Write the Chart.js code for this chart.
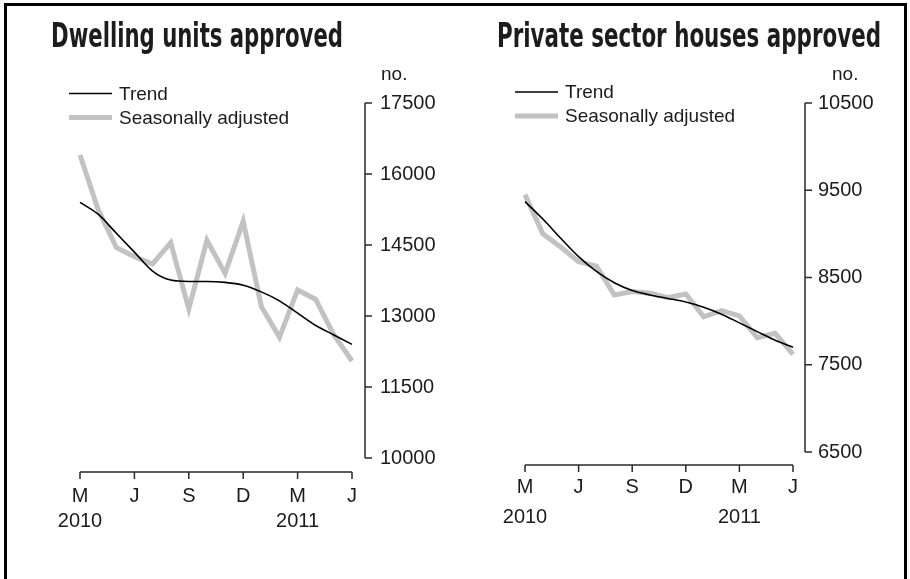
<!DOCTYPE html>
<html>
<head>
<meta charset="utf-8">
<script src="https://cdn.jsdelivr.net/npm/chart.js@4.4.0/dist/chart.umd.min.js"></script>
<style>
  html, body { margin: 0; padding: 0; background: #fff; }
  body { width: 910px; height: 579px; position: relative; overflow: hidden; }
  #frame { position: absolute; left: 4px; top: 3px; width: 903px; height: 640px; border: 3px solid #000; box-sizing: border-box; }
  canvas { position: absolute; top: 0; }
</style>
</head>
<body>
<div id="frame"></div>
<canvas id="dwellings" width="455" height="579" style="left:0"></canvas>
<canvas id="houses" width="455" height="579" style="left:455px"></canvas>
<script>
// monthly, March 2010 to June 2011
const months = ['Mar 2010', 'Apr 2010', 'May 2010', 'Jun 2010', 'Jul 2010', 'Aug 2010', 'Sep 2010', 'Oct 2010',
  'Nov 2010', 'Dec 2010', 'Jan 2011', 'Feb 2011', 'Mar 2011', 'Apr 2011', 'May 2011', 'Jun 2011'];

const dwellingTrend = [15400, 15150, 14750, 14350, 13950, 13760, 13730, 13730, 13710, 13650, 13510, 13320, 13060, 12800, 12600, 12400];
const dwellingSA = [16400, 15250, 14450, 14250, 14100, 14550, 13150, 14600, 13900, 15000, 13200, 12550, 13550, 13350, 12600, 12050];
const dwellingTicks = [10000, 11500, 13000, 14500, 16000, 17500];

const housesTrend = [9370, 9170, 8950, 8740, 8570, 8440, 8350, 8300, 8260, 8220, 8160, 8080, 7980, 7880, 7780, 7700];
const housesSA = [9450, 9000, 8850, 8680, 8630, 8300, 8340, 8320, 8270, 8310, 8050, 8120, 8060, 7810, 7860, 7620];
const housesTicks = [6500, 7500, 8500, 9500, 10500];

const seriesNames = ['Trend', 'Seasonally adjusted'];
const unitLabel = 'no.';

const textColor = '#1c1c1c';
const axisColor = '#2a2a2a';
const saColor = '#c2c2c2';
const titleFont = '"Liberation Sans Narrow", "DejaVu Sans Condensed", "Liberation Sans", sans-serif';

Chart.defaults.font.family = '"Liberation Sans", Arial, sans-serif';
Chart.defaults.font.size = 20;
Chart.defaults.color = textColor;

// titles, legend, "no." and the detached axis lines
const panelDecor = {
  id: 'panelDecor',
  afterDraw(chart, args, opts) {
    const ctx = chart.ctx;
    const area = chart.chartArea;
    const xs = chart.scales.x, ys = chart.scales.y;
    ctx.save();

    // axes
    ctx.strokeStyle = axisColor;
    ctx.lineWidth = 1.5;
    ctx.beginPath();
    const ax = area.right + opts.yGap;
    ctx.moveTo(ax, ys.getPixelForValue(ys.max));
    ctx.lineTo(ax, ys.getPixelForValue(ys.min));
    ys.ticks.forEach(t => {
      const y = ys.getPixelForValue(t.value);
      ctx.moveTo(ax, y);
      ctx.lineTo(ax + 7, y);
    });
    const ay = area.bottom + opts.xGap;
    ctx.moveTo(xs.getPixelForValue(0), ay);
    ctx.lineTo(xs.getPixelForValue(months.length - 1), ay);
    months.forEach((m, i) => {
      if (i % 3 !== 0) return;
      const x = xs.getPixelForValue(i);
      ctx.moveTo(x, ay);
      ctx.lineTo(x, ay + 7);
    });
    ctx.stroke();

    // unit label
    ctx.fillStyle = textColor;
    ctx.font = '19px "Liberation Sans", Arial, sans-serif';
    ctx.textBaseline = 'middle';
    ctx.textAlign = 'left';
    ctx.fillText(unitLabel, opts.unitX, 75);

    // legend
    chart.data.datasets.forEach((ds, i) => {
      const y = opts.legendY + i * 24;
      ctx.strokeStyle = ds.borderColor;
      ctx.lineWidth = ds.borderWidth;
      ctx.beginPath();
      ctx.moveTo(opts.legendX, y);
      ctx.lineTo(opts.legendX + 43, y);
      ctx.stroke();
      ctx.fillText(ds.label, opts.legendX + 50, y + 1);
    });

    // title, squeezed to the reference width
    ctx.font = 'bold 33px ' + titleFont;
    ctx.textBaseline = 'alphabetic';
    const w = ctx.measureText(opts.title).width;
    ctx.translate(opts.titleX, 47);
    ctx.scale(opts.titleWidth / w, 1);
    ctx.fillText(opts.title, 0, 0);
    ctx.restore();
  }
};

function makePanel(id, cfg) {
  return new Chart(document.getElementById(id), {
    type: 'line',
    data: {
      labels: months,
      datasets: [
        { label: seriesNames[0], data: cfg.trend, borderColor: '#000', borderWidth: 1.6,
          pointRadius: 0, cubicInterpolationMode: 'monotone' },
        { label: seriesNames[1], data: cfg.sa, borderColor: saColor, borderWidth: 5,
          pointRadius: 0, tension: 0, borderJoinStyle: 'miter' }
      ]
    },
    options: {
      responsive: false,
      animation: false,
      layout: { padding: { left: cfg.left, top: 103, right: 0, bottom: 0 } },
      plugins: {
        legend: { display: false },
        tooltip: { enabled: false },
        panelDecor: cfg.decor
      },
      scales: {
        x: {
          grid: { display: false, drawTicks: false },
          border: { display: false },
          ticks: {
            autoSkip: false, maxRotation: 0, padding: cfg.xPad,
            font: { size: 20, lineHeight: cfg.xLineHeight },
            callback: (v, i) => {
              if (i % 3 !== 0) return '';
              const m = months[i];
              return (i === 0 || i === 12) ? [m[0], m.slice(4)] : m[0];
            }
          },
          afterFit: s => { s.height = cfg.xHeight; }
        },
        y: {
          position: 'right',
          min: cfg.ticks[0],
          max: cfg.ticks[cfg.ticks.length - 1],
          grid: { display: false, drawTicks: false },
          border: { display: false },
          ticks: { padding: cfg.yPad, font: { size: 20 }, callback: v => String(v) },
          afterBuildTicks: s => { s.ticks = cfg.ticks.map(v => ({ value: v })); },
          afterFit: s => { s.width = cfg.yWidth; }
        }
      }
    },
    plugins: [panelDecor]
  });
}

makePanel('dwellings', {
  trend: dwellingTrend, sa: dwellingSA, ticks: dwellingTicks,
  left: 80, yWidth: 103, xHeight: 121, yPad: 28, xPad: 26, xLineHeight: 1.25,
  decor: { title: 'Dwelling units approved', titleX: 51, titleWidth: 292,
           yGap: 13, xGap: 14, unitX: 381, legendX: 69, legendY: 93.5 }
});

makePanel('houses', {
  trend: housesTrend, sa: housesSA, ticks: housesTicks,
  left: 70, yWidth: 117, xHeight: 127, yPad: 25, xPad: 20, xLineHeight: 1.5,
  decor: { title: 'Private sector houses approved', titleX: 42, titleWidth: 384,
           yGap: 12, xGap: 13, unitX: 377, legendX: 60, legendY: 92 }
});
</script>
</body>
</html>
